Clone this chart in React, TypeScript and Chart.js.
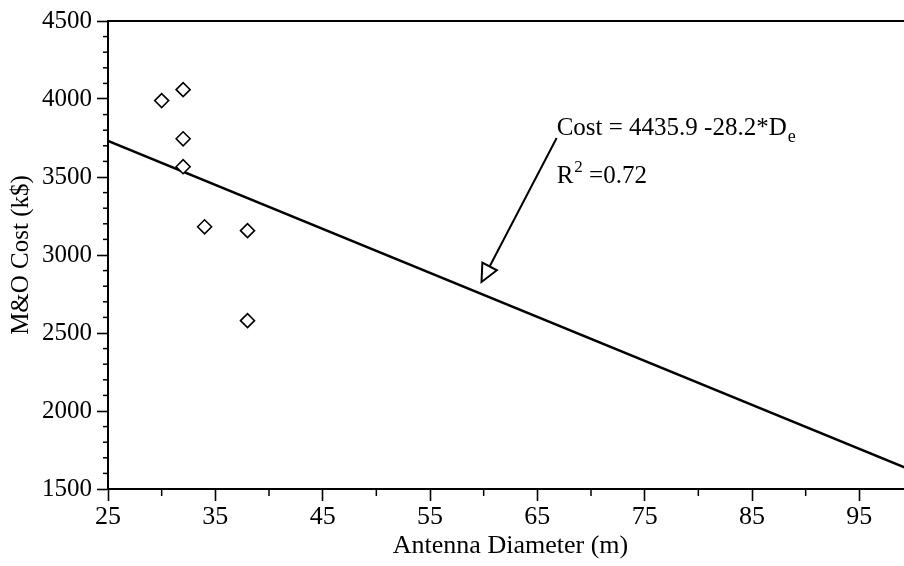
import React, { useEffect, useRef } from 'react';
import { Chart, registerables } from 'chart.js';

Chart.register(...registerables);

// ---- data ----
const diameters = [30, 32, 32, 32, 34, 38, 38];
const costs = [3990, 4060, 3745, 3566, 3181, 3156, 2579];

const fitDiameters = [25, 100];
const fitCosts = [3731, 1616];

const xTickValues = [25, 35, 45, 55, 65, 75, 85, 95];
const xMinorValues = [30, 40, 50, 60, 70, 80, 90, 100];
const yTickValues = [1500, 2000, 2500, 3000, 3500, 4000, 4500];
const yMinorValues = [
  1600, 1700, 1800, 1900, 2100, 2200, 2300, 2400, 2600, 2700, 2800, 2900,
  3100, 3200, 3300, 3400, 3600, 3700, 3800, 3900, 4100, 4200, 4300, 4400,
];

const xTitle = 'Antenna Diameter (m)';
const yTitle = 'M&O Cost (k$)';

const equationText = 'Cost = 4435.9 -28.2*D';
const equationSub = 'e';
const r2Base = 'R';
const r2Sup = '2';
const r2Value = ' =0.72';

// annotation anchors in data units
const labelAnchor = { x: 66.8, y: 3769 };
const r2Anchor = { x: 66.8, y: 3462 };
const arrowFrom = { x: 66.8, y: 3750 };
const arrowTo = { x: 59.8, y: 2827 };

const FONT = '"Liberation Serif", "Times New Roman", serif';

const decorPlugin = {
  id: 'decor',
  afterDraw(chart: any) {
    const { ctx, chartArea, scales } = chart;
    const xs = scales.x;
    const ys = scales.y;
    ctx.save();
    ctx.strokeStyle = '#000';
    ctx.fillStyle = '#000';
    ctx.lineWidth = 1.5;
    // minor ticks
    xMinorValues.forEach((v) => {
      const px = xs.getPixelForValue(v);
      ctx.beginPath();
      ctx.moveTo(px, chartArea.bottom);
      ctx.lineTo(px, chartArea.bottom + 7);
      ctx.stroke();
    });
    yMinorValues.forEach((v) => {
      const py = ys.getPixelForValue(v);
      ctx.beginPath();
      ctx.moveTo(chartArea.left - 5, py);
      ctx.lineTo(chartArea.left, py);
      ctx.stroke();
    });

    // equation text
    ctx.textBaseline = 'alphabetic';
    ctx.textAlign = 'left';
    let lx = xs.getPixelForValue(labelAnchor.x);
    const ly = ys.getPixelForValue(labelAnchor.y);
    ctx.font = `25px ${FONT}`;
    ctx.fillText(equationText, lx, ly);
    lx += ctx.measureText(equationText).width;
    ctx.font = `18px ${FONT}`;
    ctx.fillText(equationSub, lx + 1, ly + 7);

    // R^2 text
    let rx = xs.getPixelForValue(r2Anchor.x);
    const ry = ys.getPixelForValue(r2Anchor.y);
    ctx.font = `25px ${FONT}`;
    ctx.fillText(r2Base, rx, ry);
    rx += ctx.measureText(r2Base).width;
    ctx.font = `17px ${FONT}`;
    ctx.fillText(r2Sup, rx + 1, ry - 11);
    rx += ctx.measureText(r2Sup).width + 1;
    ctx.font = `25px ${FONT}`;
    ctx.fillText(r2Value, rx, ry);

    // arrow
    const ax0 = xs.getPixelForValue(arrowFrom.x);
    const ay0 = ys.getPixelForValue(arrowFrom.y);
    const ax1 = xs.getPixelForValue(arrowTo.x);
    const ay1 = ys.getPixelForValue(arrowTo.y);
    const dx = ax1 - ax0;
    const dy = ay1 - ay0;
    const len = Math.hypot(dx, dy);
    const ux = dx / len;
    const uy = dy / len;
    const headLen = 17.5;
    const headHalf = 8.2;
    const bx = ax1 - ux * headLen;
    const by = ay1 - uy * headLen;
    ctx.lineWidth = 2;
    ctx.beginPath();
    ctx.moveTo(ax0, ay0);
    ctx.lineTo(bx, by);
    ctx.stroke();
    ctx.beginPath();
    ctx.moveTo(ax1, ay1);
    ctx.lineTo(bx - uy * headHalf, by + ux * headHalf);
    ctx.lineTo(bx + uy * headHalf, by - ux * headHalf);
    ctx.closePath();
    ctx.fillStyle = '#fff';
    ctx.fill();
    ctx.stroke();
    ctx.restore();
  },
};

export default function App() {
  const canvasRef = useRef<HTMLCanvasElement | null>(null);

  useEffect(() => {
    const canvas = canvasRef.current;
    if (!canvas) return;
    const chart = new Chart(canvas, {
      type: 'scatter',
      data: {
        datasets: [
          {
            label: 'data',
            data: diameters.map((d, i) => ({ x: d, y: costs[i] })),
            pointStyle: 'rectRot',
            pointRadius: 7,
            pointBorderWidth: 1.6,
            borderColor: '#000',
            backgroundColor: '#fff',
            showLine: false,
          },
          {
            label: 'fit',
            data: fitDiameters.map((d, i) => ({ x: d, y: fitCosts[i] })),
            showLine: true,
            borderColor: '#000',
            borderWidth: 2.6,
            pointRadius: 0,
            fill: false,
          },
        ],
      },
      options: {
        responsive: false,
        maintainAspectRatio: false,
        animation: false,
        layout: { padding: { left: 0, top: 21, right: 17, bottom: 0 } },
        plugins: {
          legend: { display: false },
          tooltip: { enabled: false },
        },
        scales: {
          x: {
            type: 'linear',
            position: 'bottom',
            min: 25,
            max: 100,
            afterBuildTicks: (s: any) => {
              s.ticks = xTickValues.map((v) => ({ value: v }));
            },
            afterFit: (s: any) => {
              s.height = 77;
            },
            ticks: {
              color: '#000',
              font: { family: FONT, size: 26 },
              padding: 1,
              maxRotation: 0,
              autoSkip: false,
              callback: (v: any) => String(v),
            },
            grid: {
              display: true,
              drawOnChartArea: false,
              drawTicks: true,
              tickLength: 12,
              tickWidth: 1.6,
              tickColor: '#000',
            },
            border: { display: true, color: '#000', width: 2 },
            title: {
              display: true,
              text: xTitle,
              color: '#000',
              font: { family: FONT, size: 26 },
              padding: { top: 0, bottom: 4 },
            },
          },
          xTop: {
            type: 'linear',
            position: 'top',
            min: 25,
            max: 100,
            ticks: { display: false },
            grid: { display: true, drawOnChartArea: false, drawTicks: false },
            border: { display: true, color: '#000', width: 2 },
            afterFit: (s: any) => {
              s.height = 0;
            },
          },
          y: {
            type: 'linear',
            position: 'left',
            min: 1500,
            max: 4500,
            afterBuildTicks: (s: any) => {
              s.ticks = yTickValues.map((v) => ({ value: v }));
            },
            afterFit: (s: any) => {
              s.width = 108;
            },
            ticks: {
              color: '#000',
              font: { family: FONT, size: 25 },
              padding: 5,
              autoSkip: false,
              callback: (v: any) => String(v),
            },
            grid: {
              display: true,
              drawOnChartArea: false,
              drawTicks: true,
              tickLength: 11,
              tickWidth: 1.6,
              tickColor: '#000',
            },
            border: { display: true, color: '#000', width: 2 },
            title: {
              display: true,
              text: yTitle,
              color: '#000',
              font: { family: FONT, size: 25 },
              padding: { top: 6, bottom: 0 },
            },
          },
        },
      },
      plugins: [decorPlugin],
    } as any);
    return () => chart.destroy();
  }, []);

  return (
    <div
      style={{
        position: 'fixed',
        left: 0,
        top: 0,
        width: 904,
        height: 566,
        overflow: 'hidden',
        background: '#fff',
      }}
    >
      <canvas ref={canvasRef} width={930} height={566} style={{ display: 'block' }} />
    </div>
  );
}
